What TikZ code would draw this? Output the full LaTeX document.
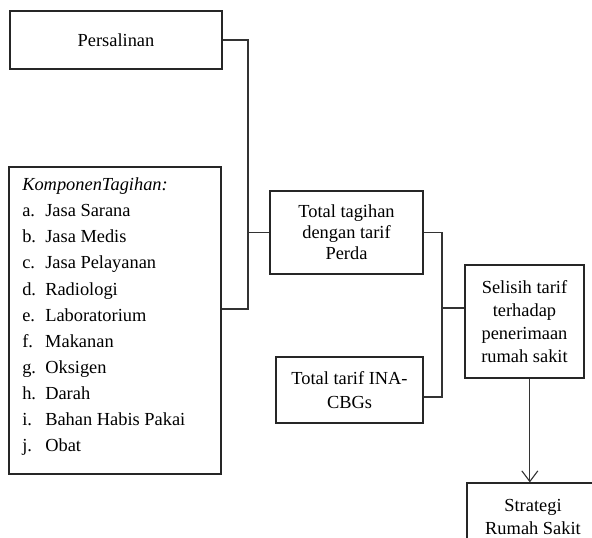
\documentclass[tikz,border=0pt]{standalone}
\usepackage{fontspec}
\setmainfont{Liberation Serif}
\usetikzlibrary{arrows.meta}
\begin{document}
\begin{tikzpicture}[x=0.75pt,y=-0.75pt,
  box/.style={draw=black!85, line width=1.2pt, fill=white, align=center, inner sep=0pt},
  conn/.style={draw=black!80, line width=0.8pt},
  arr/.style={conn, -{Straight Barb[length=8pt,width=12pt,line width=0.8pt]}},
  txt/.style={font=\fontsize{13.8}{17.25}\selectfont}]
\useasboundingbox (0,0) rectangle (592,537);
\clip (0,0) rectangle (592,537);
\node[box, txt, minimum width=159pt, minimum height=43.5pt] (pers) at (116,40) {Persalinan};
\node[box, minimum width=159pt, minimum height=230.25pt] (komp) at (115,320.5) {};
\node[anchor=north west, inner sep=0pt, font=\fontsize{13.8}{19.6}\selectfont] (kompText) at (22,172)
 {\begin{tabular}{@{}p{17.25pt}@{}l@{}}
  \multicolumn{2}{@{}l@{}}{\itshape KomponenTagihan:}\\
  a. & Jasa Sarana\\
  b. & Jasa Medis\\
  c. & Jasa Pelayanan\\
  d. & Radiologi\\
  e. & Laboratorium\\
  f. & Makanan\\
  g. & Oksigen\\
  h. & Darah\\
  i. & Bahan Habis Pakai\\
  j. & Obat
 \end{tabular}};
\node[box, font=\fontsize{13.8}{15.75}\selectfont, minimum width=114.75pt, minimum height=62.25pt] (total) at (346.5,232.5) {Total tagihan\\dengan tarif\\Perda};
\node[box, font=\fontsize{13.8}{18.5}\selectfont, minimum width=110.25pt, minimum height=49.5pt] (ina) at (349.5,390) {Total tarif INA-\\CBGs};
\node[box, font=\fontsize{13.8}{17.25}\selectfont, minimum width=89.25pt, minimum height=84.75pt] (sel) at (524.5,321.5) {Selisih tarif\\terhadap\\penerimaan\\rumah sakit};
\node[box, font=\fontsize{13.8}{17.25}\selectfont, minimum width=99pt, minimum height=50pt] (strat) at (533,516.5) {Strategi\\Rumah Sakit};
\coordinate (j1) at (248,309);
\coordinate (j2) at (442,397);
\coordinate (j3) at (442,308);
\draw[conn] (pers.east) -| (j1) -- (j1 -| komp.east);
\draw[conn] (j1 |- total.west) -- (total.west);
\draw[conn] (total.east) -| (j2) -- (j2 -| ina.east);
\draw[conn] (j3) -- (j3 -| sel.west);
\draw[arr] ([xshift=4pt]sel.south) -- ([xshift=4pt]sel.south |- strat.north);
\end{tikzpicture}
\end{document}
